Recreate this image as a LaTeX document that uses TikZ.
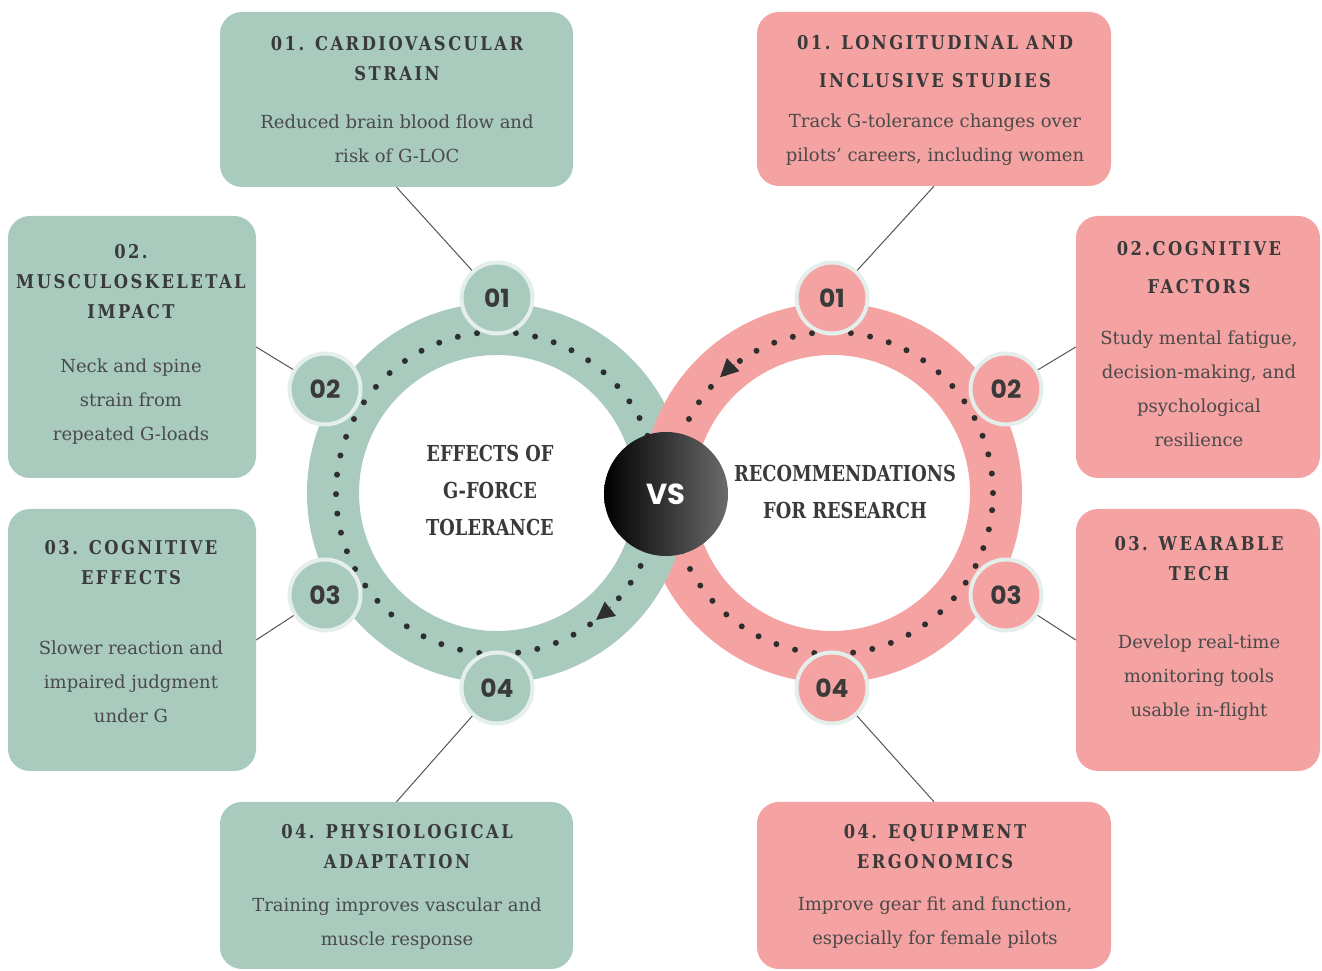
\documentclass[tikz,border=0pt]{standalone}
\usepackage{fontspec}
\setmainfont{DejaVu Serif}
\newfontfamily\headfont{DejaVu Serif}[LetterSpace=13,FakeStretch=0.86]
\newfontfamily\midfont{DejaVu Serif}[FakeStretch=0.81]
\newfontfamily\numfont{Poppins}
\usetikzlibrary{arrows.meta}

\definecolor{gfill}{HTML}{A8CBBD}
\definecolor{rfill}{HTML}{F4A2A2}
\definecolor{ringedge}{HTML}{E4EFEC}
\definecolor{dotc}{HTML}{2E2E2E}
\definecolor{txtc}{HTML}{3A3A3A}
\definecolor{bodyc}{HTML}{4A4A4A}
\definecolor{linkc}{HTML}{555555}

\begin{document}
\begin{tikzpicture}[x=1pt,y=1pt,
  gring/.style={draw=gfill, line width=52pt},
  rring/.style={draw=rfill, line width=52pt},
  dots/.style={draw=dotc, line width=6pt, line cap=round, dash pattern=on 0pt off 19.5pt},
  flow/.style={dotc, line width=0.5pt, -{Triangle[length=18pt,width=18pt]}},
  numnode/.style={circle, minimum size=71pt, inner sep=0pt, draw=ringedge, line width=4pt,
    font=\numfont\bfseries\fontsize{25}{25}\selectfont, text=txtc},
  gnum/.style={numnode, fill=gfill},
  rnum/.style={numnode, fill=rfill},
  card/.style={rounded corners=22pt, inner sep=0pt},
  gbox/.style={card, fill=gfill},
  rbox/.style={card, fill=rfill},
  headtxt/.style={font=\headfont\bfseries\fontsize{19}{30}\selectfont, text=txtc, align=center},
  bodytxt/.style={font=\fontsize{18}{34}\selectfont, text=bodyc, align=center},
  midtxt/.style={font=\midfont\bfseries\fontsize{22}{37}\selectfont, text=txtc, align=center},
  link/.style={draw=linkc, line width=1pt}]

  \useasboundingbox[fill=white] (0,0) rectangle (1322,971);

  % Ring centres
  \coordinate (gc) at (497,478);
  \coordinate (rc) at (832,478);

  % Rings and dotted tracks
  \draw[gring] (gc) circle (164);
  \draw[dots] (gc) circle (161);
  \draw[flow] (gc) ++(-45:161) arc (-45:-52:161);
  \draw[rring] (rc) circle (164);
  \draw[dots] (rc) circle (161);
  \draw[flow] (rc) ++(127:161) arc (127:134:161);

  % Green ring passes over the red one at the bottom crossing
  \begin{scope}
    \clip (600,300) rectangle (720,477);
    \draw[gring] (gc) circle (164);
    \draw[dots] (gc) circle (161);
    \draw[flow] (gc) ++(-45:161) arc (-45:-52:161);
  \end{scope}

  % Step circles
  \node[gnum] (g1) at (497,673) {01};
  \node[gnum] (g2) at (325,582) {02};
  \node[gnum] (g3) at (325,376) {03};
  \node[gnum] (g4) at (497,283) {04};
  \node[rnum] (r1) at (832,673) {01};
  \node[rnum] (r2) at (1006,582) {02};
  \node[rnum] (r3) at (1006,376) {03};
  \node[rnum] (r4) at (832,283) {04};

  % Centre titles
  \node[midtxt] (gtitle) at (490,481) {EFFECTS OF\\G-FORCE\\TOLERANCE};
  \node[midtxt] (rtitle) at (845,479) {RECOMMENDATIONS\\FOR RESEARCH};

  % VS badge
  \node[circle, minimum size=124pt, inner sep=0pt, left color=black, right color=black!58,
    text=white, font=\numfont\bfseries\fontsize{29}{29}\selectfont] (vs) at (666,477) {VS};

  % Cards, left side
  \node[gbox, minimum width=353pt, minimum height=175pt] (gbox1) at (396.5,871.5) {};
  \node[gbox, minimum width=248pt, minimum height=262pt] (gbox2) at (132,624) {};
  \node[gbox, minimum width=248pt, minimum height=262pt] (gbox3) at (132,331) {};
  \node[gbox, minimum width=353pt, minimum height=167pt] (gbox4) at (396.5,85.5) {};

  \node[headtxt] (gh1) at (397,912) {01. CARDIOVASCULAR\\STRAIN};
  \node[bodytxt] (gb1) at (397,832) {Reduced brain blood flow and\\risk of G-LOC};
  \node[headtxt] (gh2) at (131,689) {02.\\MUSCULOSKELETAL\\IMPACT};
  \node[bodytxt] (gb2) at (131,569) {Neck and spine\\strain from\\repeated G-loads};
  \node[headtxt] (gh3) at (131,408) {03. COGNITIVE\\EFFECTS};
  \node[bodytxt] (gb3) at (131,289) {Slower reaction and\\impaired judgment\\under G};
  \node[headtxt] (gh4) at (397,124) {04. PHYSIOLOGICAL\\ADAPTATION};
  \node[bodytxt] (gb4) at (397,47) {Training improves vascular and\\muscle response};

  % Cards, right side
  \node[rbox, minimum width=354pt, minimum height=174pt] (rbox1) at (934,872) {};
  \node[rbox, minimum width=244pt, minimum height=262pt] (rbox2) at (1198,624) {};
  \node[rbox, minimum width=244pt, minimum height=262pt] (rbox3) at (1198,331) {};
  \node[rbox, minimum width=354pt, minimum height=167pt] (rbox4) at (934,85.5) {};

  \node[headtxt] (rh1) at (935,909) {01. LONGITUDINAL AND\\[8pt]INCLUSIVE STUDIES};
  \node[bodytxt] (rb1) at (935,831) {Track G-tolerance changes over\\pilots’ careers, including women};
  \node[headtxt] (rh2) at (1199,703) {02.COGNITIVE\\[8pt]FACTORS};
  \node[bodytxt] (rb2) at (1199,582) {Study mental fatigue,\\decision-making, and\\psychological\\resilience};
  \node[headtxt] (rh3) at (1199,412) {03. WEARABLE\\TECH};
  \node[bodytxt] (rb3) at (1199,293) {Develop real-time\\monitoring tools\\usable in-flight};
  \node[headtxt] (rh4) at (935,124) {04. EQUIPMENT\\ERGONOMICS};
  \node[bodytxt] (rb4) at (935,48) {Improve gear fit and function,\\especially for female pilots};

  % Connectors
  \draw[link] (g1) -- (gbox1.south);
  \draw[link] (g2) -- (gbox2.east);
  \draw[link] (g3) -- (gbox3.east);
  \draw[link] (g4) -- (gbox4.north);
  \draw[link] (r1) -- (rbox1.south);
  \draw[link] (r2) -- (rbox2.west);
  \draw[link] (r3) -- (rbox3.west);
  \draw[link] (r4) -- (rbox4.north);
\end{tikzpicture}
\end{document}
